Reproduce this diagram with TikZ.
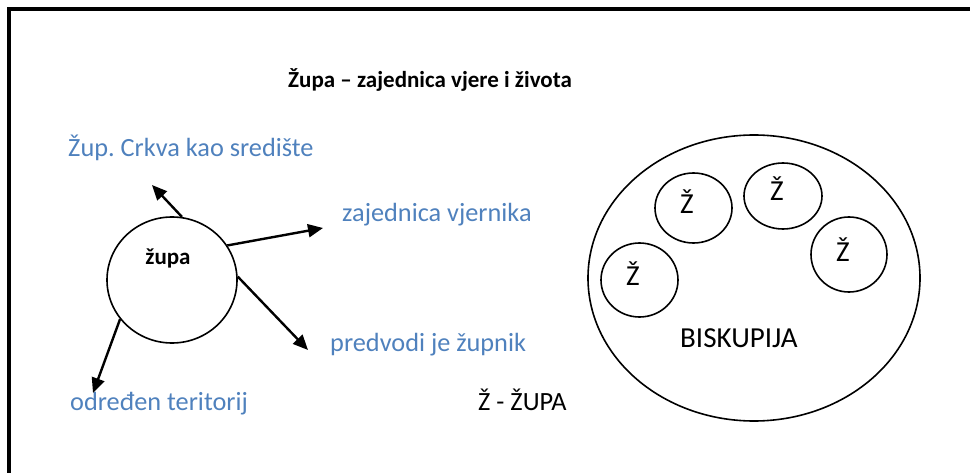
\documentclass[tikz,border=0pt]{standalone}
\usepackage{fontspec}
\setmainfont{Carlito}
\usetikzlibrary{shapes.geometric,arrows.meta}
\definecolor{wordblue}{RGB}{79,129,189}
\frenchspacing
\tikzset{
  bluetext/.style={inner sep=0pt, anchor=base west, text=wordblue, font=\fontsize{26.3}{30}\selectfont},
  blacktext/.style={inner sep=0pt, anchor=base west, font=\fontsize{26.3}{30}\selectfont},
  bigtext/.style={inner sep=0pt, font=\fontsize{29}{33}\selectfont},
  arr/.style={line width=2.4pt, -{Triangle[length=15pt,width=13pt]}},
  oval/.style={draw, ellipse, inner sep=0pt, line width=1.6pt},
}
\begin{document}
\begin{tikzpicture}[x=1pt,y=-1pt]
\useasboundingbox (0,0) rectangle (970,473);
% frame
\coordinate (fTR) at (972,9);
\coordinate (fTL) at (9,9);
\coordinate (fBL) at (9,475);
\draw[line width=4pt, line join=miter] (fTR) -- (fTL) -- (fBL);
% title
\node[inner sep=0pt, anchor=base west, font=\bfseries\fontsize{23}{27}\selectfont] (title) at (288,88) {Župa – zajednica vjere i života};
% left part
\node[oval, minimum width=130, minimum height=126] (zupa) at (172,280) {};
\node[inner sep=0pt, font=\bfseries\fontsize{23}{27}\selectfont] (zupalbl) at (168,258) {župa};
\node[bluetext] (crkva) at (68,157) {Žup.\ Crkva kao središte};
\node[bluetext] (zajed) at (342,222) {zajednica vjernika};
\node[bluetext] (predv) at (330,352) {predvodi je župnik};
\node[bluetext] (odred) at (70,410) {određen teritorij};
\coordinate (t1) at (152,185);
\coordinate (t2) at (323,228);
\coordinate (t3) at (308,350);
\coordinate (t4) at (93,393);
\draw[arr] (zupa.81) -- (t1);
\draw[arr] (zupa.32) -- (t2);
\draw[arr] (zupa.3) -- (t3);
\draw[arr] (zupa.217) -- (t4);
\node[blacktext] (legend) at (478,410) {Ž - ŽUPA};
% right part
\node[oval, minimum width=332, minimum height=286] (bisk) at (754,278) {};
\node[oval, minimum width=77, minimum height=70] (z1) at (693.5,208) {};
\node[oval, minimum width=78, minimum height=66] (z2) at (783,196) {};
\node[oval, minimum width=76, minimum height=75] (z3) at (849,254.5) {};
\node[oval, minimum width=77, minimum height=74] (z4) at (639.5,280) {};
\node[bigtext, anchor=base] (z1l) at (687,214) {Ž};
\node[bigtext, anchor=base] (z2l) at (777,201) {Ž};
\node[bigtext, anchor=base] (z3l) at (843,262) {Ž};
\node[bigtext, anchor=base] (z4l) at (633,286) {Ž};
\node[bigtext, anchor=base west] (bisklbl) at (680,348) {BISKUPIJA};
\end{tikzpicture}
\end{document}
